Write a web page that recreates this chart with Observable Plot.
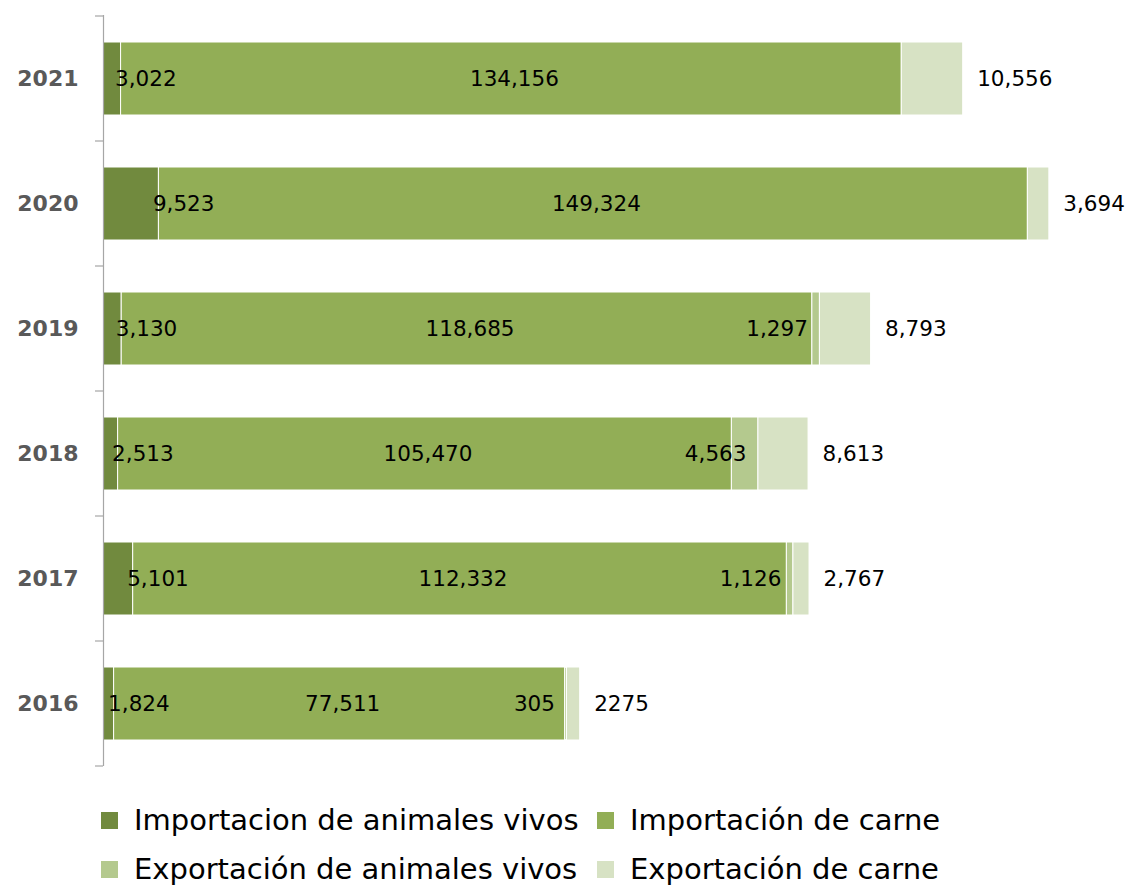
<!DOCTYPE html>
<html><head><meta charset="utf-8">
<script src="https://cdn.jsdelivr.net/npm/d3@7"></script>
<script src="https://cdn.jsdelivr.net/npm/@observablehq/plot@0.6"></script>
<style>
body{margin:0;background:#fff;}
#wrap{position:relative;width:1133px;height:885px;overflow:hidden;}
#wrap svg{position:absolute;left:0;top:0;}
.leg{position:absolute;font-family:"DejaVu Sans";font-size:29px;color:#000;display:flex;align-items:center;white-space:nowrap;height:40px;}
.sw{width:17px;height:17px;margin-right:16px;flex:none;}
</style></head><body><div id="wrap"></div>
<script>
const years = ["2021","2020","2019","2018","2017","2016"];
const series = ["Importacion de animales vivos","Importación de carne","Exportación de animales vivos","Exportación de carne"];
const colors = ["#718a3e","#92ae56","#b4c98e","#d7e2c4"];
const impVivos = [3022, 9523, 3130, 2513, 5101, 1824];
const impCarne = [134156, 149324, 118685, 105470, 112332, 77511];
const expVivos = [0, 0, 1297, 4563, 1126, 305];
const expCarne = [10556, 3694, 8793, 8613, 2767, 2275];
const expCarneLabels = ["10,556","3,694","8,793","8,613","2,767","2275"];

const fmt = d3.format(",");
const values = [impVivos, impCarne, expVivos, expCarne];
const rows = [];
series.forEach((s, si) => years.forEach((y, yi) => {
  const v = values[si][yi];
  rows.push({year: y, series: s, value: v,
    label: v ? (si === 3 ? expCarneLabels[yi] : fmt(v)) : ""});
}));

const txt = {fontFamily: "DejaVu Sans", fontSize: 21.5, fill: "#000"};
const lab = (si) => d => d.series === series[si] ? d.label : "";

const chart = Plot.plot({
  width: 1133, height: 790,
  marginLeft: 103, marginRight: 0, marginTop: 15, marginBottom: 24,
  x: {domain: [0, 177000], axis: null},
  y: {domain: years, paddingInner: 0.416, paddingOuter: 0.208, axis: null},
  color: {domain: series, range: colors},
  marks: [
    Plot.barX(rows, Plot.stackX({y: "year", x: "value", fill: "series", stroke: "white", strokeWidth: 1})),
    Plot.ruleX([0], {stroke: "#a6a6a6", strokeWidth: 1.2}),
    Plot.text(years, {y: d => d, text: d => d, frameAnchor: "left", textAnchor: "end", dx: -25,
      fontFamily: "DejaVu Sans", fontWeight: "bold", fontSize: 22, fill: "#595959"}),
    Plot.text(rows, Plot.stackX2({y: "year", x: "value", text: lab(0), textAnchor: "start", dx: -6, ...txt})),
    Plot.text(rows, Plot.stackX({y: "year", x: "value", text: lab(1), dx: 3, ...txt})),
    Plot.text(rows, Plot.stackX2({y: "year", x: "value", text: lab(2), textAnchor: "end", dx: -12, ...txt})),
    Plot.text(rows, Plot.stackX2({y: "year", x: "value", text: lab(3), textAnchor: "start", dx: 14, ...txt}))
  ]
});

const wrap = document.getElementById("wrap");
wrap.appendChild(chart);

// boundary ticks on the category axis, from Plot's own scales
const ys = chart.scale("y"), xs = chart.scale("x");
const x0 = xs.apply(0);
const half = (ys.step - ys.bandwidth) / 2;
const bounds = years.map(y => ys.apply(y) - half);
bounds.push(ys.apply(years[years.length - 1]) + ys.bandwidth + half);
const svg = d3.select(chart);
svg.append("g").selectAll("line").data(bounds).join("line")
  .attr("x1", x0 - 8).attr("x2", x0).attr("y1", d => d).attr("y2", d => d)
  .attr("stroke", "#a6a6a6").attr("stroke-width", 1.2);

// legend
const legPos = [[101, 800], [597, 800], [101, 849], [597, 849]];
series.forEach((s, i) => {
  const d = document.createElement("div");
  d.className = "leg";
  d.style.left = legPos[i][0] + "px";
  d.style.top = legPos[i][1] + "px";
  d.innerHTML = `<span class="sw" style="background:${colors[i]}"></span><span>${s}</span>`;
  wrap.appendChild(d);
});
</script></body></html>
